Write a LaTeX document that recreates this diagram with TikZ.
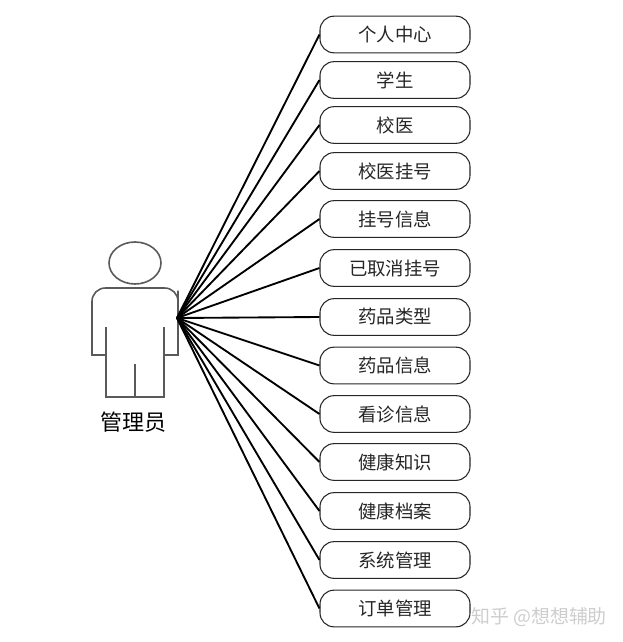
\documentclass[tikz,border=0pt]{standalone}
\usepackage{fontspec}
\usepackage{xcolor}
\setmainfont{Noto Sans CJK SC}
\definecolor{bodygray}{RGB}{90, 90, 90}
\definecolor{markgray}{RGB}{205, 205, 205}
\usetikzlibrary{positioning}
\tikzset{
    funcbox/.style={draw=black!85, fill=white, rounded corners=10.5pt, line width=0.8pt,
                    minimum width=112.5pt, minimum height=27.5pt, inner sep=0pt, font=\fontsize{13.8}{15}\selectfont, text=black!85},
    figline/.style={draw=bodygray, line width=1.2pt},
    link/.style={draw=black, line width=1.4pt}
}
\begin{document}
\begin{tikzpicture}[x=0.75pt, y=-0.75pt]
        \useasboundingbox (0,0) rectangle (623,642);
        % actor
        \draw[figline] (135,263) ellipse (26 and 21);
        \draw[figline] (106,355) -- (92,355) -- (92,304) [rounded corners=10pt] -- (92,288) -- (178,288) -- (178,304) [sharp corners] -- (178,355) -- (164,355);
        \draw[figline] (106,327) -- (106,397) -- (164,397) -- (164,327);
        \draw[figline] (135,364) -- (135,397);
        \coordinate (hub) at (177,318);
        \node[font=\fontsize{16.5}{18}\selectfont] (admin) at (133,422) {管理员};
        % functions
        \foreach \name/\ypos/\label in {center/34.5/个人中心, student/80/学生, doctor/125/校医, register/171/校医挂号,
                regInfo/219/挂号信息, cancelled/268/已取消挂号, drugType/317/药品类型, drugInfo/365.5/药品信息,
                visit/414/看诊信息, health/462/健康知识, archive/511/健康档案, system/560/系统管理, order/608.5/订单管理} {
            \node[funcbox] (\name) at (395,\ypos) {\label};
            \draw[link] (hub) -- (\name.west);
        }
        \node[text=markgray, font=\fontsize{14.2}{16}\selectfont] (mark) at (539,617) {知乎 @想想辅助};
    \end{tikzpicture}
\end{document}
